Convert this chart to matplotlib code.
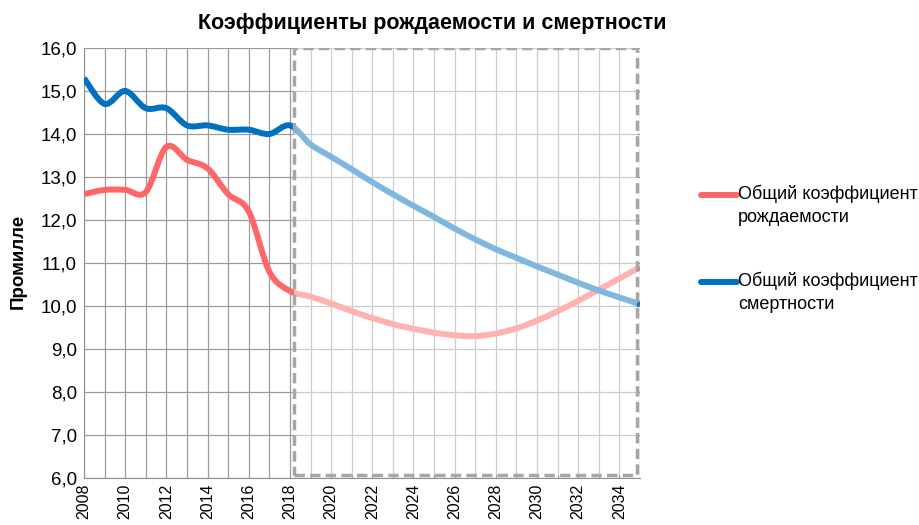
import numpy as np
import matplotlib
matplotlib.use("Agg")
import matplotlib.pyplot as plt
from matplotlib.path import Path
from matplotlib.patches import PathPatch, Rectangle
from matplotlib.lines import Line2D
from matplotlib.ticker import MultipleLocator, FuncFormatter

plt.rcParams['font.family'] = ['Liberation Sans', 'DejaVu Sans']

years = list(range(2008, 2036))
birth = [12.6, 12.7, 12.7, 12.65, 13.7, 13.4, 13.2, 12.6, 12.2, 10.8, 10.35,
         10.22, 10.06, 9.88, 9.72, 9.58, 9.47, 9.38, 9.32, 9.3, 9.36, 9.48,
         9.66, 9.88, 10.12, 10.38, 10.64, 10.9]
death = [15.3, 14.7, 15.0, 14.6, 14.6, 14.2, 14.2, 14.1, 14.1, 14.0, 14.2,
         13.76, 13.47, 13.18, 12.88, 12.6, 12.33, 12.07, 11.8, 11.55, 11.32,
         11.12, 10.92, 10.73, 10.54, 10.36, 10.2, 10.04]
forecast_start = 2018.2
forecast_end = 2034.85
title = 'Коэффициенты рождаемости и смертности'
ylabel = 'Промилле'
labels = ['Общий коэффициент\nрождаемости', 'Общий коэффициент\nсмертности']
colors = ['#FF6666', '#0070C0']


def smooth_path(x, y):
    # Catmull-Rom style cubic Bezier through the points (like Excel "smoothed line")
    verts = [(x[0], y[0])]
    codes = [Path.MOVETO]
    n = len(x)
    for i in range(n - 1):
        p0 = max(i - 1, 0)
        p3 = min(i + 2, n - 1)
        c1 = (x[i] + (x[i + 1] - x[p0]) / 6, y[i] + (y[i + 1] - y[p0]) / 6)
        c2 = (x[i + 1] - (x[p3] - x[i]) / 6, y[i + 1] - (y[p3] - y[i]) / 6)
        verts += [c1, c2, (x[i + 1], y[i + 1])]
        codes += [Path.CURVE4] * 3
    return Path(verts, codes)


fig = plt.figure(figsize=(9.19, 5.25), dpi=100)
ax = fig.add_axes([84 / 919, 47 / 525, 556 / 919, 430 / 525])

ax.set_xlim(2008, 2035)
ax.set_ylim(6, 16)
ax.yaxis.set_major_locator(MultipleLocator(1))
ax.yaxis.set_major_formatter(FuncFormatter(lambda v, p: f'{v:.1f}'.replace('.', ',')))
ax.xaxis.set_major_locator(MultipleLocator(2))
ax.xaxis.set_minor_locator(MultipleLocator(1))
ax.xaxis.set_major_formatter(FuncFormatter(lambda v, p: f'{int(v)}'))
ax.tick_params(axis='x', which='both', length=0, labelrotation=90, labelsize=11.5, pad=4)
ax.tick_params(axis='y', length=0, labelsize=13.5, pad=5)

ax.grid(True, which='both', color='#9C9C9C', linewidth=0.9)
ax.set_axisbelow(True)
for s in ['top', 'right']:
    ax.spines[s].set_visible(False)
for s in ['left', 'bottom']:
    ax.spines[s].set_color('#8F8F8F')

for vals, c in zip([birth, death], colors):
    ax.add_patch(PathPatch(smooth_path(years, vals), fill=False, edgecolor=c,
                           lw=4.3, capstyle='butt', joinstyle='round', zorder=3))

# forecast box: half-transparent white with dashed grey frame
ax.add_patch(Rectangle((forecast_start, 6.06), forecast_end - forecast_start, 9.94,
                       facecolor='white', alpha=0.5, edgecolor='none', zorder=4))
ax.add_patch(Rectangle((forecast_start, 6.06), forecast_end - forecast_start, 9.94,
                       fill=False, edgecolor='#A6A6A6', lw=2.5, linestyle=(0, (3, 1.5)),
                       zorder=5))

fig.text(432 / 919, 1 - 23 / 525, title, ha='center', va='center',
         fontsize=15.5, fontweight='bold')
fig.text(18 / 919, 1 - 261 / 525, ylabel, ha='center', va='center',
         rotation=90, fontsize=13.5, fontweight='bold')

# legend drawn by hand (handle aligned with the first text line)
for lab, c, yy in zip(labels, colors, [195, 282]):
    yf = 1 - yy / 525
    fig.add_artist(Line2D([701 / 919, 737 / 919], [yf, yf], color=c, lw=4.3,
                          solid_capstyle='round', transform=fig.transFigure))
    fig.text(738 / 919, yf + 10 / 525, lab, ha='left', va='top', fontsize=13,
             linespacing=1.45)

fig.savefig('out.png', dpi=100)
